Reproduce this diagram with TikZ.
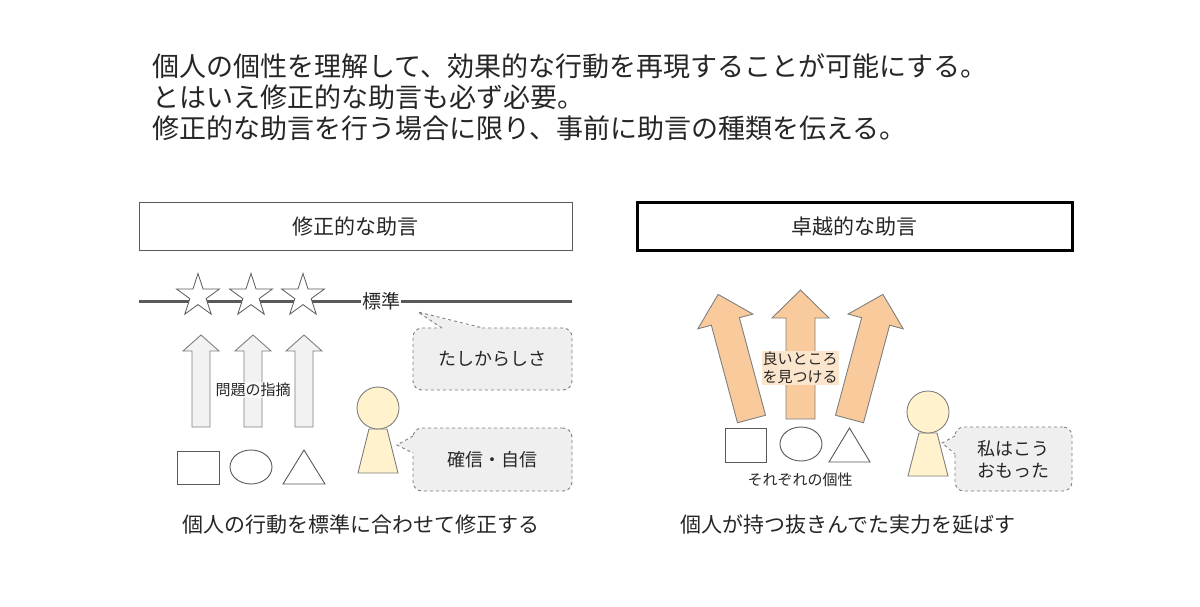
\documentclass[tikz,border=0pt]{standalone}
\usepackage{fontspec}
\setmainfont{Noto Sans CJK JP}
\usetikzlibrary{shapes.geometric}
\definecolor{txt}{HTML}{262626}
\definecolor{edge}{HTML}{7F7F7F}
\definecolor{darkedge}{HTML}{595959}
\definecolor{grayfill}{HTML}{F2F2F2}
\definecolor{orangefill}{HTML}{F9CB9C}
\definecolor{orangelight}{HTML}{FCE5CD}
\definecolor{personfill}{HTML}{FFF2CC}
\definecolor{calloutfill}{HTML}{EFEFEF}
\tikzset{
  fs/.style={font=\fontsize{#1}{#1*1.2}\selectfont},
  titletext/.style={anchor=west, inner sep=0pt, text=txt, font=\fontsize{27}{31}\selectfont},
  hdr/.style={draw=darkedge, line width=1pt, fill=white, text=txt, font=\fontsize{21}{25}\selectfont, inner sep=0pt},
  bottomtext/.style={text=txt, inner sep=0pt, font=\fontsize{21}{25}\selectfont},
  smalllabel/.style={text=txt, inner sep=1.5pt, font=\fontsize{15}{18}\selectfont, align=center},
  starshape/.style={star, star points=5, star point ratio=2.618, minimum size=45pt, inner sep=0pt, draw=darkedge, line width=0.8pt, fill=white},
  garrow/.style={draw=edge, line width=0.9pt, fill=grayfill, line join=miter},
  oarrow/.style={draw=edge, line width=0.9pt, fill=orangefill, line join=miter},
  geo/.style={draw=darkedge, line width=0.9pt, fill=white, inner sep=0pt},
  personbody/.style={draw=edge, line width=0.9pt, fill=personfill},
  personhead/.style={circle, draw=edge, line width=0.9pt, fill=personfill, minimum size=42pt, inner sep=0pt},
  callout/.style={draw=edge, dashed, line width=0.9pt, fill=calloutfill, rounded corners=9pt, text=txt, font=\fontsize{18}{22}\selectfont, align=center, inner sep=0pt},
  pointerline/.style={draw=edge, dashed, line width=0.9pt},
}
\begin{document}
\begin{tikzpicture}[x=1pt,y=-1pt]
\useasboundingbox (0,0) rectangle (1200,606);
\fill[white] (0,0) rectangle (1200,606);

% title
\node[titletext] (t1) at (152,66) {個人の個性を理解して、効果的な行動を再現することが可能にする。};
\node[titletext] (t2) at (152,97) {とはいえ修正的な助言も必ず必要。};
\node[titletext] (t3) at (152,128) {修正的な助言を行う場合に限り、事前に助言の種類を伝える。};

% headers
\node[hdr, minimum width=433pt, minimum height=48pt] (h1) at (355.5,226) {修正的な助言};
\node[hdr, draw=black, line width=3pt, minimum width=435pt, minimum height=48pt] (h2) at (854.5,226) {卓越的な助言};

% ===== left panel =====
\coordinate (lineL) at (139,301);
\coordinate (lineR) at (572,301);
\draw[darkedge, line width=3pt] (lineL) -- (lineR);
\node[starshape] (s1) at (198,296) {};
\node[starshape] (s2) at (251,296) {};
\node[starshape] (s3) at (303,296) {};
\node[fill=white, text=txt, inner sep=1pt, font=\fontsize{19}{22}\selectfont] (std) at (381,301) {標準};

\foreach \c in {201,253,304}{
  \draw[garrow] ({\c-9},427) -- ({\c-9},351) -- ({\c-18},351) -- (\c,335) -- ({\c+18},351) -- ({\c+9},351) -- ({\c+9},427) -- cycle;
}
\node[smalllabel, fill=white, fill opacity=0.6, text opacity=1] (lab1) at (253,390) {問題の指摘};

\node[geo, rectangle, minimum width=42pt, minimum height=33pt] (sq1) at (198,467.5) {};
\node[geo, ellipse, minimum width=42pt, minimum height=34pt] (el1) at (251,467) {};
\draw[geo] (283,484) -- (325,484) -- (304,450) -- cycle;

% person left
\draw[personbody] (369,429) -- (387,429) -- (398,473) -- (358,473) -- cycle;
\node[personhead] (head1) at (378,408) {};

% callout 1
\node[callout, minimum width=159pt, minimum height=62pt] (c1) at (492.5,359) {たしからしさ};
\coordinate (c1tip) at (418,312);
\coordinate (c1a) at (442,328);
\coordinate (c1b) at (483,328);
\fill[calloutfill] ([yshift=-1.5pt]c1a) -- (c1tip) -- ([yshift=-1.5pt]c1b) -- cycle;
\draw[pointerline] (c1a) -- (c1tip) -- (c1b);

% callout 2
\node[callout, minimum width=159pt, minimum height=63pt] (c2) at (492.5,459.5) {確信・自信};
\coordinate (c2tip) at (397,445);
\coordinate (c2a) at (413,436);
\coordinate (c2b) at (413,453);
\fill[calloutfill] ([xshift=1.5pt]c2a) -- (c2tip) -- ([xshift=1.5pt]c2b) -- cycle;
\draw[pointerline] (c2a) -- (c2tip) -- (c2b);

\node[bottomtext] (b1) at (361,525) {個人の行動を標準に合わせて修正する};

% ===== right panel =====
\foreach \bx/\ang in {751.5/15, 800.5/0, 849.5/-15}{
  \draw[oarrow, shift={(\bx,419)}, rotate=\ang] (-14.5,0) -- (-14.5,-101) -- (-28.5,-101) -- (0,-129) -- (28.5,-101) -- (14.5,-101) -- (14.5,0) -- cycle;
}
\node[smalllabel, fill=orangelight, inner sep=1pt, font=\fontsize{15}{18}\selectfont] (lab2) at (800,368) {良いところ\\を見つける};

\node[geo, rectangle, minimum width=41pt, minimum height=34pt] (sq2) at (745.5,445) {};
\node[geo, ellipse, minimum width=42pt, minimum height=34pt] (el2) at (801,444) {};
\draw[geo] (829,462) -- (870,462) -- (849.5,428) -- cycle;
\node[smalllabel] (lab3) at (800,480) {それぞれの個性};

% person right
\draw[personbody] (919,433) -- (937,433) -- (948,476) -- (908,476) -- cycle;
\node[personhead] (head2) at (928,412) {};

% callout 3
\node[callout, minimum width=117pt, minimum height=64pt, font=\fontsize{18}{22}\selectfont] (c3) at (1013.5,459) {私はこう\\おもった};
\coordinate (c3tip) at (942,443);
\coordinate (c3a) at (955,436);
\coordinate (c3b) at (955,454);
\fill[calloutfill] ([xshift=1.5pt]c3a) -- (c3tip) -- ([xshift=1.5pt]c3b) -- cycle;
\draw[pointerline] (c3a) -- (c3tip) -- (c3b);

\node[bottomtext] (b2) at (848,525) {個人が持つ抜きんでた実力を延ばす};
\end{tikzpicture}
\end{document}
